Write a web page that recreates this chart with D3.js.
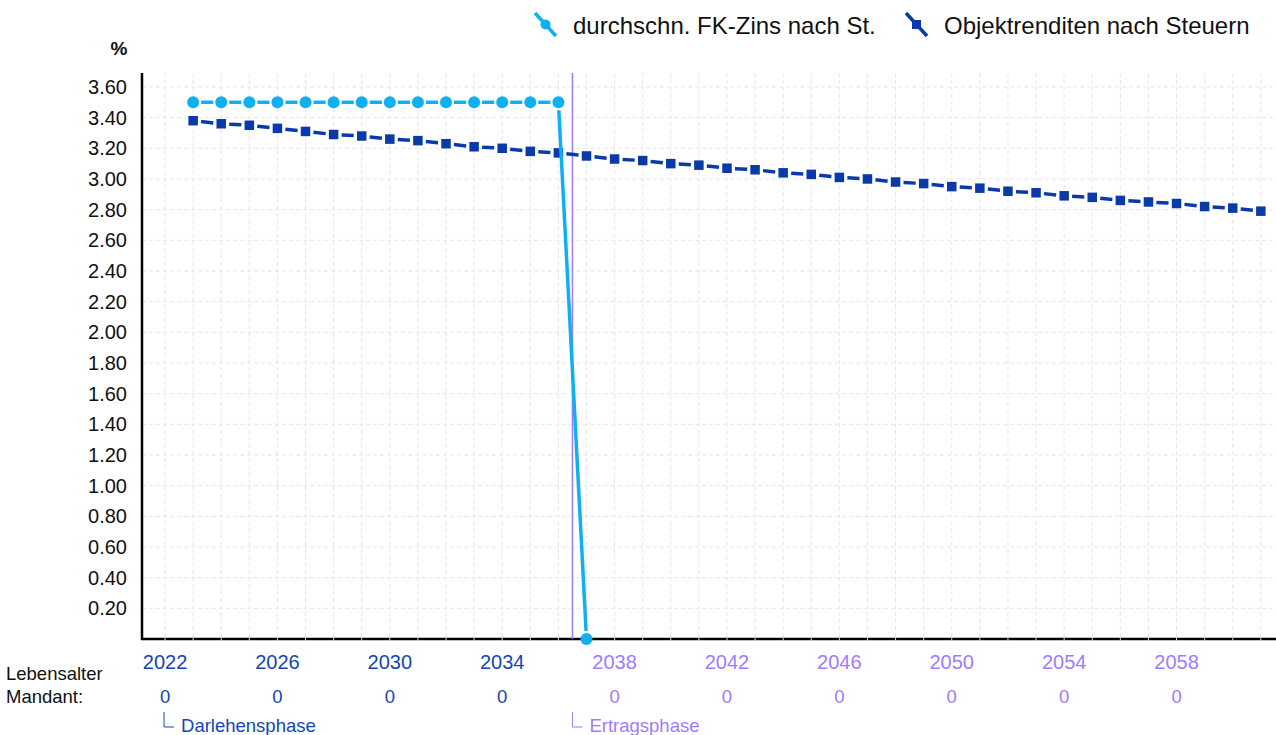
<!DOCTYPE html>
<html><head><meta charset="utf-8">
<script src="https://cdn.jsdelivr.net/npm/d3@7"></script>
<style>body{margin:0;background:#fff;} svg{display:block;font-family:Arial,"Liberation Sans",sans-serif;}</style>
</head><body>
<svg id="c" width="1276" height="735"></svg>
<script>
const fkYears = [2023,2024,2025,2026,2027,2028,2029,2030,2031,2032,2033,2034,2035,2036,2037];
const fkValues = [3.50,3.50,3.50,3.50,3.50,3.50,3.50,3.50,3.50,3.50,3.50,3.50,3.50,3.50,0];
const objYears = [2023,2024,2025,2026,2027,2028,2029,2030,2031,2032,2033,2034,2035,2036,2037,2038,2039,2040,2041,2042,2043,2044,2045,2046,2047,2048,2049,2050,2051,2052,2053,2054,2055,2056,2057,2058,2059,2060,2061];
const objValues = [3.38,3.36,3.35,3.33,3.31,3.29,3.28,3.26,3.25,3.23,3.21,3.20,3.18,3.17,3.15,3.13,3.12,3.10,3.09,3.07,3.06,3.04,3.03,3.01,3.00,2.98,2.97,2.95,2.94,2.92,2.91,2.89,2.88,2.86,2.85,2.84,2.82,2.81,2.79];
const yearTicks = [2022,2026,2030,2034,2038,2042,2046,2050,2054,2058];
const ageLabels = ["0","0","0","0","0","0","0","0","0","0"];
const yTicks = [0.2,0.4,0.6,0.8,1.0,1.2,1.4,1.6,1.8,2.0,2.2,2.4,2.6,2.8,3.0,3.2,3.4,3.6];
const gridYears = d3.range(2022, 2062);
const phaseBoundary = 2036.5;
const seriesNames = ["durchschn. FK-Zins nach St.", "Objektrenditen nach Steuern"];
const phaseNames = ["Darlehensphase", "Ertragsphase"];

const cLight = "#0fb0f2", cDark = "#0a3aa8", cPurple = "#9f7cff", cYearBlue = "#1446b4";

const svg = d3.select("#c");
const x = d3.scaleLinear().domain([2021.18, 2061.54]).range([142, 1276]);
const y = d3.scaleLinear().domain([0, 3.691]).range([639, 73]);

// grid
const grid = svg.append("g");
grid.selectAll("line.gx").data(gridYears).join("line")
  .attr("x1", d => x(d)).attr("x2", d => x(d)).attr("y1", 73).attr("y2", 639)
  .attr("stroke", "#e6e6e6").attr("stroke-width", 1).attr("stroke-dasharray", "4,3");
grid.selectAll("line.gy").data(yTicks).join("line")
  .attr("x1", 142).attr("x2", 1276).attr("y1", d => y(d)).attr("y2", d => y(d))
  .attr("stroke", "#e6e6e6").attr("stroke-width", 1).attr("stroke-dasharray", "4,3");

// y axis
const yAxis = d3.axisLeft(y).tickValues(yTicks).tickFormat(d3.format(".2f")).tickSize(0).tickPadding(15);
const gy = svg.append("g").attr("transform", "translate(142,0)").call(yAxis);
gy.select(".domain").remove();
gy.selectAll("text").attr("font-size", 20).attr("fill", "#111").attr("font-family", "Arial, 'Liberation Sans', sans-serif");
svg.append("line").attr("x1", 142).attr("x2", 142).attr("y1", 73).attr("y2", 640)
  .attr("stroke", "#000").attr("stroke-width", 2.5);

// x axis
const xAxis = d3.axisBottom(x).tickValues(gridYears).tickSize(0).tickFormat("");
const gx = svg.append("g").attr("transform", "translate(0,639)").call(xAxis);
gx.select(".domain").remove();
svg.append("line").attr("x1", 141).attr("x2", 1276).attr("y1", 639).attr("y2", 639)
  .attr("stroke", "#000").attr("stroke-width", 2.5);
svg.selectAll("line.xt").data(gridYears).join("line")
  .attr("x1", d => x(d)).attr("x2", d => x(d)).attr("y1", 638).attr("y2", 640.5)
  .attr("stroke", "#ddd").attr("stroke-width", 1);

// % label
svg.append("text").attr("x", 119).attr("y", 55).attr("text-anchor", "middle")
  .attr("font-size", 19).attr("font-weight", "bold").attr("fill", "#111").text("%");

// year labels & ages
svg.selectAll("text.yr").data(yearTicks).join("text")
  .attr("x", d => x(d)).attr("y", 669).attr("text-anchor", "middle")
  .attr("font-size", 20).attr("fill", d => d < phaseBoundary ? cYearBlue : cPurple).text(d => d);
svg.selectAll("text.age").data(yearTicks).join("text")
  .attr("x", d => x(d)).attr("y", 703).attr("text-anchor", "middle")
  .attr("font-size", 18.5).attr("fill", d => d < phaseBoundary ? cYearBlue : cPurple).text((d, i) => ageLabels[i]);
svg.append("text").attr("x", 6).attr("y", 680).attr("font-size", 18.5).attr("fill", "#111").text("Lebensalter");
svg.append("text").attr("x", 6).attr("y", 703).attr("font-size", 18.5).attr("fill", "#111").text("Mandant:");

// phase brackets
const phases = [{x: x(2022) - 1, name: phaseNames[0], c: cYearBlue}, {x: x(phaseBoundary), name: phaseNames[1], c: cPurple}];
phases.forEach(p => {
  svg.append("path").attr("d", `M${p.x},712 V727 H${p.x + 10}`).attr("fill", "none").attr("stroke", p.c).attr("stroke-width", 1);
  svg.append("text").attr("x", p.x + 17).attr("y", 732).attr("font-size", 18.5).attr("fill", p.c).text(p.name);
});

// phase line
svg.append("line").attr("x1", x(phaseBoundary)).attr("x2", x(phaseBoundary)).attr("y1", 73).attr("y2", 639)
  .attr("stroke", cPurple).attr("stroke-width", 1.5);

// series with gapped segments
function drawSeries(years, vals, color, marker) {
  const g = svg.append("g");
  const pts = years.map((yr, i) => [x(yr), y(vals[i])]);
  const gap = 8;
  for (let i = 0; i < pts.length - 1; i++) {
    const [x1, y1] = pts[i], [x2, y2] = pts[i + 1];
    const dx = x2 - x1, dy = y2 - y1, L = Math.hypot(dx, dy);
    const ux = dx / L, uy = dy / L;
    g.append("line").attr("x1", x1 + ux * gap).attr("y1", y1 + uy * gap)
      .attr("x2", x2 - ux * gap).attr("y2", y2 - uy * gap)
      .attr("stroke", color).attr("stroke-width", 3.5);
  }
  if (marker === "circle") {
    g.selectAll("circle").data(pts).join("circle").attr("cx", d => d[0]).attr("cy", d => d[1]).attr("r", 6).attr("fill", color);
  } else {
    g.selectAll("rect").data(pts).join("rect").attr("x", d => d[0] - 4.75).attr("y", d => d[1] - 4.75)
      .attr("width", 9.5).attr("height", 9.5).attr("fill", color);
  }
}
drawSeries(objYears, objValues, cDark, "square");
drawSeries(fkYears, fkValues, cLight, "circle");

// legend
const leg = [{x: 535, c: cLight, m: "circle", t: seriesNames[0], tx: 573}, {x: 906, c: cDark, m: "square", t: seriesNames[1], tx: 944}];
leg.forEach(l => {
  svg.append("line").attr("x1", l.x).attr("y1", 13).attr("x2", l.x + 21).attr("y2", 36).attr("stroke", l.c).attr("stroke-width", 3.5);
  if (l.m === "circle") svg.append("circle").attr("cx", l.x + 10.5).attr("cy", 24.5).attr("r", 5).attr("fill", l.c);
  else svg.append("rect").attr("x", l.x + 6).attr("y", 20).attr("width", 9).attr("height", 9).attr("fill", l.c);
  svg.append("text").attr("x", l.tx).attr("y", 34).attr("font-size", 24).attr("fill", "#111").text(l.t);
});
</script>
</body></html>
